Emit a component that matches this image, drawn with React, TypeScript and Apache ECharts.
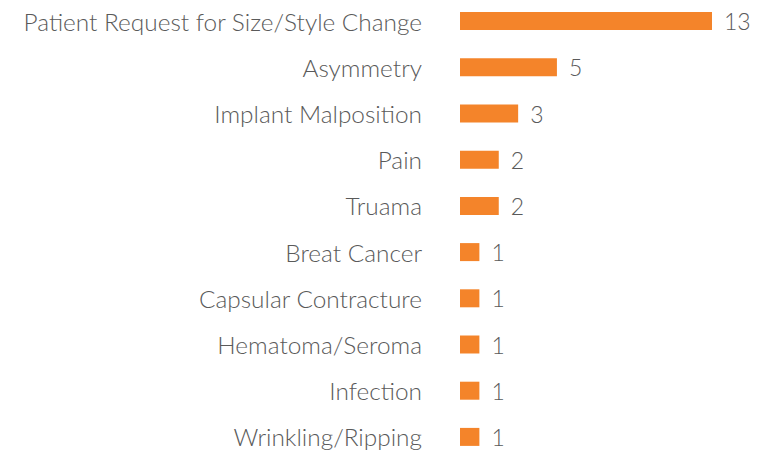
import React, { useEffect, useRef } from "react";
import * as echarts from "echarts";

const categories = [
  "Patient Request for Size/Style Change",
  "Asymmetry",
  "Implant Malposition",
  "Pain",
  "Truama",
  "Breat Cancer",
  "Capsular Contracture",
  "Hematoma/Seroma",
  "Infection",
  "Wrinkling/Ripping",
];
const counts = [13, 5, 3, 2, 2, 1, 1, 1, 1, 1];

export default function App() {
  const ref = useRef<HTMLDivElement>(null);
  useEffect(() => {
    document.body.style.overflow = "hidden";
    const chart = echarts.init(ref.current!, null, { renderer: "svg" });
    chart.setOption({
      animation: false,
      grid: { left: 460, width: 252, top: 0, height: 462, containLabel: false },
      xAxis: {
        type: "value",
        min: 0,
        max: 13,
        show: false,
      },
      yAxis: {
        type: "category",
        data: categories,
        inverse: true,
        axisLine: { show: false },
        axisTick: { show: false },
        splitLine: { show: false },
        axisLabel: {
          margin: 38,
          fontFamily: "Lato",
          fontWeight: 300,
          fontSize: 24.4,
          color: "#5a5a5a",
        },
      },
      series: [
        {
          type: "bar",
          data: counts,
          barWidth: 18,
          itemStyle: { color: "#F4842A" },
          label: {
            show: true,
            position: "right",
            distance: 12,
            fontFamily: "Lato",
            fontWeight: 300,
            fontSize: 23,
            color: "#5a5a5a",
          },
        },
      ],
    });
    return () => chart.dispose();
  }, []);
  return <div ref={ref} style={{ width: 765, height: 470, position: "absolute", left: 0, top: -2 }} />;
}
